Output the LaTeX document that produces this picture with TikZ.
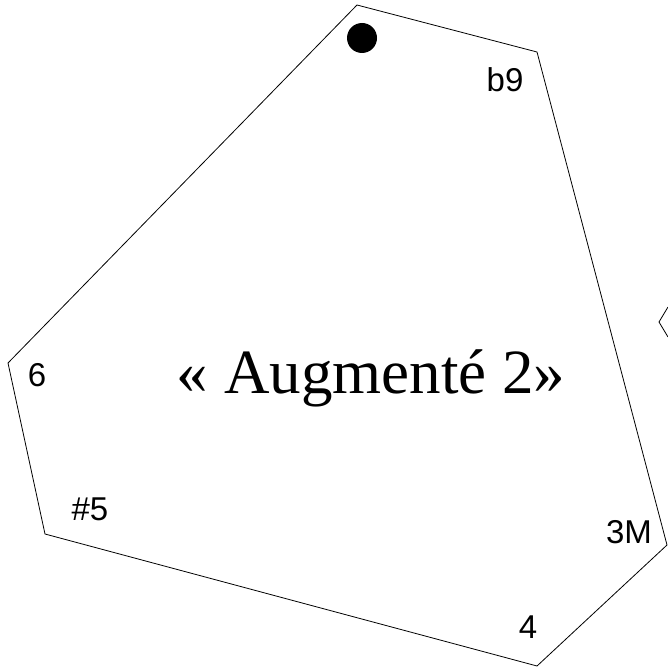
\documentclass[tikz,border=0pt]{standalone}
\usepackage{fontspec}
\setmainfont{Liberation Serif}
\newfontfamily\labelfont{Liberation Sans}

\begin{document}
\begin{tikzpicture}[x=1pt,y=-1pt,line width=0.8pt,tone/.style={font=\labelfont\fontsize{33}{33}\selectfont,inner sep=0pt},title/.style={font=\fontsize{63}{63}\selectfont,inner sep=0pt}]
\useasboundingbox (0,0) rectangle (668,671);
% outline of the chord shape
\coordinate (top) at (357,5);
\coordinate (upr) at (537,52);
\coordinate (rgt) at (667,545);
\coordinate (bot) at (537,666);
\coordinate (lowl) at (45,534);
\coordinate (lft) at (8,363);
\draw (top)--(upr)--(rgt)--(bot)--(lowl)--(lft)--cycle;
% corner of the next shape
\coordinate (nxa) at (668,307);
\coordinate (nxb) at (659,322);
\coordinate (nxc) at (668,337);
\draw (nxa)--(nxb)--(nxc);
\fill (362,38) circle[radius=15];
\node[tone] (b9) at (505,80) {b9};
\node[tone] (six) at (37,375) {6};
\node[tone] (sharp5) at (90,509) {\#5};
\node[tone] (maj3) at (629,532) {3M};
\node[tone] (four) at (528,627) {4};
\node[title,anchor=base] (name) at (371,393) {« Augmenté 2»};
\end{tikzpicture}
\end{document}
